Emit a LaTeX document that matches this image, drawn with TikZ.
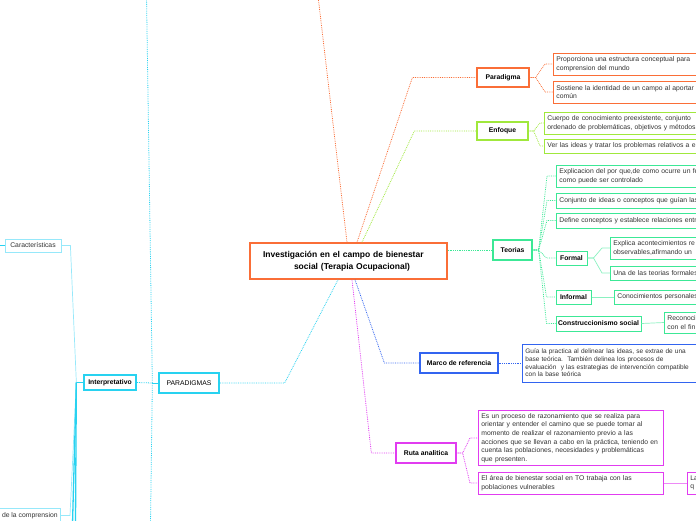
\documentclass[tikz,border=0pt]{standalone}
\usepackage{fontspec}
\setmainfont{Liberation Sans}
\usetikzlibrary{positioning, shadows}
\definecolor{MapOrange}{RGB}{250, 110, 55}
\definecolor{LimeGreen}{RGB}{160, 232, 60}
\definecolor{MintGreen}{RGB}{60, 232, 150}
\definecolor{MapBlue}{RGB}{50, 100, 240}
\definecolor{MapMagenta}{RGB}{225, 60, 240}
\definecolor{MapCyan}{RGB}{40, 210, 240}
\definecolor{LightCyan}{RGB}{150, 232, 250}
\definecolor{TextGray}{RGB}{51, 51, 51}

\begin{document}
\begin{tikzpicture}[
    x=1pt, y=-1pt,
    topic/.style={draw=#1, fill=white, line width=1.3pt, inner sep=2pt,
      font=\bfseries\fontsize{6.8}{8}\selectfont,
      drop shadow={opacity=0.15, shadow xshift=0.8pt, shadow yshift=-1pt}},
    leaf/.style={draw=#1, fill=white, line width=0.8pt, anchor=west, align=left,
      inner sep=3pt, text=TextGray, font=\fontsize{6.8}{8.6}\selectfont},
    link/.style={draw=#1, densely dotted, line width=0.8pt},
    twig/.style={draw=#1, line width=0.7pt}
  ]
    \useasboundingbox (0,0) rectangle (696,520);
    \clip (0,0) rectangle (696,520);

    % Central topic
    \node[topic=MapOrange, line width=1.5pt, minimum width=197pt, minimum height=36pt,
      text width=171pt, align=left, font=\bfseries\fontsize{8.5}{12}\selectfont] (root) at (348.5,261)
      {Investigación en el campo de bienestar\\\hspace*{31pt}social (Terapia Ocupacional)};

    % Main topics
    \node[topic=MapOrange, minimum width=52pt, minimum height=19pt] (paradigma) at (503,77.5) {Paradigma};
    \node[topic=LimeGreen, minimum width=51pt, minimum height=18pt] (enfoque) at (502.5,131) {Enfoque};
    \node[topic=MintGreen, minimum width=39pt, minimum height=20pt] (teorias) at (512.5,250) {Teorias};
    \node[topic=MapBlue, minimum width=78pt, minimum height=20pt] (marco) at (459,363) {Marco de referencia};
    \node[topic=MapMagenta, minimum width=60pt, minimum height=20pt] (ruta) at (426,453) {Ruta analitica};
    \node[topic=MapCyan, minimum width=60pt, minimum height=20pt, font=\fontsize{6.8}{8}\selectfont] (paradigmas) at (189,383) {PARADIGMAS};

    % Paradigma
    \node[leaf=MapOrange, minimum height=22pt, text width=200pt] (p1) at (553,64)
      {Proporciona una estructura conceptual para\\comprension del mundo};
    \node[leaf=MapOrange, minimum height=22pt, text width=200pt] (p2) at (553,92)
      {Sostiene la identidad de un campo al aportar\\común};

    % Enfoque
    \node[leaf=LimeGreen, minimum height=22pt, text width=200pt] (e1) at (544,123)
      {Cuerpo de conocimiento preexistente, conjunto\\ordenado de problemáticas, objetivos y métodos};
    \node[leaf=LimeGreen, minimum height=14pt, text width=200pt] (e2) at (544,146)
      {Ver las ideas y tratar los problemas relativos a e};

    % Teorias
    \node[leaf=MintGreen, minimum height=22pt, text width=200pt] (t1) at (556,176)
      {Explicacion del por que,de como ocurre un fe\\como puede ser controlado};
    \node[leaf=MintGreen, minimum height=15pt, text width=200pt] (t2) at (556,200.5)
      {Conjunto de ideas o conceptos que guían las};
    \node[leaf=MintGreen, minimum height=15pt, text width=200pt] (t3) at (556,220.5)
      {Define conceptos y establece relaciones entre};
    \node[topic=MintGreen, line width=1pt, minimum width=31pt, minimum height=14pt] (formal) at (571.5,258) {Formal};
    \node[topic=MintGreen, line width=1pt, minimum width=35pt, minimum height=14pt] (informal) at (573.5,297) {Informal};
    \node[topic=MintGreen, line width=1pt, minimum width=85pt, minimum height=15pt] (constr) at (598.5,323.5) {Construccionismo social};
    \node[leaf=MintGreen, minimum height=22pt, text width=200pt] (f1) at (610,248)
      {Explica acontecimientos re\\observables,afirmando un};
    \node[leaf=MintGreen, minimum height=14pt, text width=200pt] (f2) at (610,273)
      {Una de las teorias formales};
    \node[leaf=MintGreen, minimum height=14pt, text width=200pt] (i1) at (614,297)
      {Conocimientos personales};
    \node[leaf=MintGreen, minimum height=21pt, text width=200pt] (c1) at (664,322.5)
      {Reconoci\\con el fin};

    % Marco de referencia
    \node[leaf=MapBlue, minimum height=38pt, text width=200pt, font=\fontsize{6.5}{7.6}\selectfont] (m1) at (522,363)
      {Guía la practica al delinear las ideas, se extrae de una\\base teórica.\ \ También delinea los procesos de\\evaluación\ \ y las estrategias de intervención compatible\\con la base teórica};

    % Ruta analitica
    \node[leaf=MapMagenta, minimum height=54pt, text width=179pt] (r1) at (478,438)
      {Es un proceso de razonamiento que se realiza para\\orientar y entender el camino que se puede tomar al\\momento de realizar el razonamiento previo a las\\acciones que se llevan a cabo en la práctica, teniendo en\\cuenta las poblaciones, necesidades y problemáticas\\que presenten.};
    \node[leaf=MapMagenta, minimum height=22pt, text width=179pt] (r2) at (478,483)
      {El área de bienestar social en TO trabaja con las\\poblaciones vulnerables};
    \node[leaf=MapMagenta, minimum height=22pt, text width=60pt] (r3) at (687,483) {La\\q};

    % PARADIGMAS (left side)
    \node[topic=MapCyan, minimum width=52pt, minimum height=15pt] (interp) at (110,382.5) {Interpretativo};
    \node[leaf=LightCyan, anchor=center, minimum width=56pt, minimum height=13pt] (carac) at (33,245.5) {Características};
    \node[leaf=LightCyan, anchor=east, minimum height=15pt] (compr) at (61,515.5) {de la comprension};

    % Off-picture ends
    \coordinate (topout) at (318,-4);
    \coordinate (upout) at (146.5,-4);
    \coordinate (downout) at (150.5,524);
    \coordinate (deepa) at (72.5,524);
    \coordinate (deepb) at (75.5,524);
    \coordinate (caracout) at (-4,245.5);

    % Connections from the central topic
    \draw[link=MapOrange] ([xshift=-1.5pt]root.north) -- (topout);
    \draw[link=MapOrange] ([xshift=8.5pt]root.north) -- ([xshift=-64pt]paradigma.west) -- (paradigma.west);
    \draw[link=LimeGreen] ([xshift=13.5pt]root.north) -- ([xshift=-62pt]enfoque.west) -- (enfoque.west);
    \draw[link=MintGreen] (root.east |- teorias.west) -- (teorias.west);
    \draw[link=MapBlue] ([xshift=6.5pt]root.south) -- ([xshift=-35pt]marco.west) -- (marco.west);
    \draw[link=MapMagenta] ([xshift=3.5pt]root.south) -- ([xshift=-24pt]ruta.west) -- (ruta.west);
    \draw[link=MapCyan] ([xshift=-10.5pt]root.south) -- ([xshift=65pt]paradigmas.east) -- (paradigmas.east);

    % Leaves
    \foreach \n in {p1,p2} {
      \draw[link=MapOrange] (paradigma.east) -- ++(6,0) -- ([xshift=-8pt]\n.west) -- (\n.west);
    }
    \foreach \n in {e1,e2} {
      \draw[link=LimeGreen] (enfoque.east) -- ++(5,0) -- ([xshift=-4pt]\n.west) -- (\n.west);
    }
    \foreach \n in {t1,t2,t3,formal,informal,constr} {
      \draw[link=MintGreen] (teorias.east) -- ++(6,0) -- ([xshift=-9pt]\n.west) -- (\n.west);
    }
    \foreach \n in {f1,f2} {
      \draw[twig=MintGreen!60] (formal.east) -- ++(6,0) -- ([xshift=-8pt]\n.west) -- (\n.west);
    }
    \draw[twig=MintGreen!60] (informal.east) -- (i1.west);
    \draw[twig=MintGreen!60] (constr.east) -- (c1.west);
    \draw[link=MapBlue] (marco.east) -- (m1.west);
    \foreach \n in {r1,r2} {
      \draw[link=MapMagenta] (ruta.east) -- ++(6,0) -- ([xshift=-8pt]\n.west) -- (\n.west);
    }
    \draw[twig=MapMagenta!60] (r2.east) -- (r3.west);

    % Left branch
    \draw[MapCyan, line width=0.8pt] (paradigmas.west) -- ++(-6,0) coordinate (pj);
    \draw[link=MapCyan] (pj) -- (upout);
    \draw[link=MapCyan] (pj) -- (downout);
    \draw[link=MapCyan] (pj) -- (interp.east);
    \draw[MapCyan, line width=1.5pt] (interp.west) -- ++(-7,0) coordinate (ij);
    \draw[twig=LightCyan] (ij) -- ([xshift=9pt]carac.east) -- (carac.east);
    \draw[twig=LightCyan] (ij) -- ([xshift=9pt]compr.east) -- (compr.east);
    \draw[MapCyan, line width=1.3pt] (ij) -- (deepa);
    \draw[MapCyan, line width=1.3pt] (ij) -- (deepb);
    \draw[twig=MapCyan] (carac.west) -- (caracout);
  \end{tikzpicture}
\end{document}
